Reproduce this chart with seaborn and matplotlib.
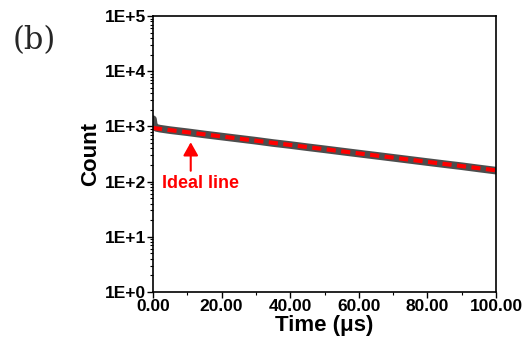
import numpy as np
import pandas as pd
import seaborn as sns
import matplotlib.pyplot as plt
from matplotlib.ticker import LogLocator, FixedLocator, NullFormatter

time_us = [0.0, 0.2, 0.5, 1.0, 2.0, 5.0, 10.0, 15.0, 20.0, 25.0, 30.0, 35.0, 40.0,
           45.0, 50.0, 55.0, 60.0, 65.0, 70.0, 75.0, 80.0, 85.0, 90.0, 95.0, 100.0]
counts = [1350, 1100, 980, 940, 910, 855, 785, 715, 655, 600, 550, 500, 460,
          420, 385, 352, 322, 295, 270, 247, 226, 207, 190, 173, 158]

# ideal single-exponential line (straight on log axis)
ideal_t = [0.0, 100.0]
ideal_c = [935, 160]

yticks = [1, 10, 100, 1000, 10000, 100000]
ytick_labels = ["1E+0", "1E+1", "1E+2", "1E+3", "1E+4", "1E+5"]
xticks = [0, 20, 40, 60, 80, 100]
xtick_labels = ["0.00", "20.00", "40.00", "60.00", "80.00", "100.00"]

sns.set_style("ticks")
plt.rcParams['font.family'] = ['Liberation Sans', 'DejaVu Sans']

data = pd.DataFrame({"t": time_us, "c": counts})
ideal = pd.DataFrame({"t": ideal_t, "c": ideal_c})

fig = plt.figure(figsize=(5.25, 3.56), dpi=100)
ax = fig.add_axes([153 / 525, 1 - 292 / 356, 343 / 525, 276 / 356])

sns.lineplot(data=data, x="t", y="c", ax=ax, color="#4d4d4d", linewidth=5.5)
sns.lineplot(data=ideal, x="t", y="c", ax=ax, color="#ff0000", linewidth=3,
             dashes=False, linestyle=(0, (2.2, 1.3)))

ax.set_yscale("log")
ax.set_xlim(0, 100)
ax.set_ylim(1, 1e5)
ax.set_yticks(yticks)
ax.set_yticklabels(ytick_labels, fontweight="bold", fontsize=12.5, color="black")
ax.yaxis.set_minor_locator(LogLocator(base=10, subs=np.arange(2, 10), numticks=20))
ax.yaxis.set_minor_formatter(NullFormatter())
ax.set_xticks(xticks)
ax.set_xticklabels(xtick_labels, fontweight="bold", fontsize=12.5, color="black")
ax.xaxis.set_minor_locator(FixedLocator([10, 30, 50, 70, 90]))

ax.tick_params(which="major", direction="out", length=4, width=1, pad=1, colors="black")
ax.tick_params(which="minor", direction="out", length=2, width=0.8, colors="black")
for s in ax.spines.values():
    s.set_linewidth(1.2)
    s.set_color("black")

ax.set_xlabel("Time (μs)", fontweight="bold", fontsize=16, labelpad=1, color="black")
ax.set_ylabel("Count", fontweight="bold", fontsize=16, labelpad=3, color="black")

ax.annotate("", xy=(11, 580), xytext=(11, 140),
            arrowprops=dict(arrowstyle="-|>,head_length=0.8,head_width=0.45",
                            color="#ff0000", lw=1.5))
ax.text(2.5, 92, "Ideal line", color="#ff0000", fontweight="bold", fontsize=13,
        va="center", ha="left")

fig.text(13 / 525, 1 - 41 / 356, "(b)", fontsize=22, family="DejaVu Serif",
         va="center", ha="left")

fig.savefig("out.png", dpi=100)
